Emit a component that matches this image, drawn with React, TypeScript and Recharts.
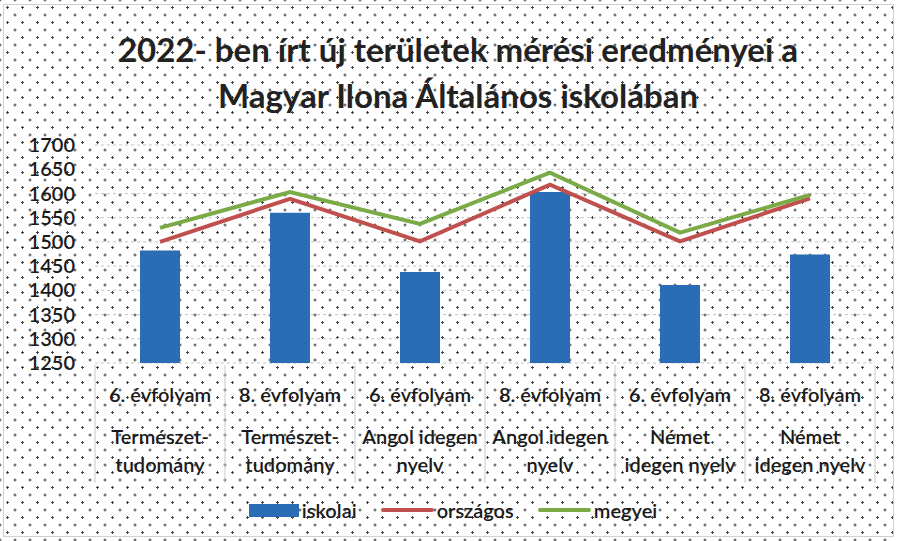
import * as React from 'react';
import { ComposedChart, Bar, Line, XAxis, YAxis, CartesianGrid } from 'recharts';

const grades = ['6. évfolyam', '8. évfolyam', '6. évfolyam', '8. évfolyam', '6. évfolyam', '8. évfolyam'];
const subjects = [
    ['Természet-', 'tudomány'],
    ['Természet-', 'tudomány'],
    ['Angol idegen', 'nyelv'],
    ['Angol idegen', 'nyelv'],
    ['Német', 'idegen nyelv'],
    ['Német', 'idegen nyelv'],
];
const iskolai = [1482, 1560, 1438, 1603, 1411, 1474];
const orszagos = [1500, 1589, 1501, 1618, 1501, 1590];
const megyei = [1529, 1603, 1537, 1643, 1519, 1597];
const yTicks = [1250, 1300, 1350, 1400, 1450, 1500, 1550, 1600, 1650, 1700];

const series = [
    { key: 'iskolai', color: '#2a6db5', kind: 'bar' },
    { key: 'országos', color: '#c0504d', kind: 'line' },
    { key: 'megyei', color: '#7aab47', kind: 'line' },
];

const data = grades.map((g, i) => ({
    idx: i,
    iskolai: iskolai[i],
    'országos': orszagos[i],
    megyei: megyei[i],
}));

const W = 898;
const H = 541;
const margin = { top: 145, right: 23, bottom: 56, left: 15 };
const Y_W = 80;
const halfBand = (W - margin.left - margin.right - Y_W) / grades.length / 2;
const FONT = 'Lato, "Open Sans", sans-serif';
const TXT = '#1a1a1a';

const CategoryTick = (props: any) => {
    const { x, y, payload, index } = props;
    const i = payload.value;
    const lines = subjects[i];
    return (
        <g fontSize={20} fontWeight={600} fill={TXT} fontFamily={FONT}>
            <line x1={x - halfBand} x2={x - halfBand} y1={y + 2} y2={y + 120} stroke="#c8c8c8" />
            {index === grades.length - 1 && (
                <line x1={x + halfBand} x2={x + halfBand} y1={y + 2} y2={y + 120} stroke="#c8c8c8" />
            )}
            <text x={x} y={y + 39} textAnchor="middle">{grades[i]}</text>
            <text x={x} y={y + 81} textAnchor="middle">{lines[0]}</text>
            <text x={x} y={y + 109} textAnchor="middle">{lines[1]}</text>
        </g>
    );
};

export default function App() {
    return (
        <div
            style={{
                position: 'absolute',
                left: 0,
                top: 0,
                width: W,
                height: H,
                backgroundColor: '#fff',
                backgroundImage:
                    'radial-gradient(circle, #444 1px, transparent 1.4px), radial-gradient(circle, #444 1px, transparent 1.4px)',
                backgroundSize: '15px 15px, 15px 15px',
                backgroundPosition: '0 0, 7.5px 7.5px',
            }}
        >
            <div style={{ position: 'absolute', left: 3, top: 4, width: 889, height: 531, border: '1px solid #d0d0d0' }} />
            <div
                style={{
                    position: 'absolute',
                    left: 18,
                    top: 26,
                    width: W - 18,
                    textAlign: 'center',
                    fontFamily: FONT,
                    fontWeight: 700,
                    fontSize: 33,
                    lineHeight: '46px',
                    color: '#222',
                }}
            >
                2022- ben írt új területek mérési eredményei a
                <br />
                Magyar Ilona Általános iskolában
            </div>
            <div style={{ position: 'absolute', left: 0, top: 0 }}>
                <ComposedChart width={W} height={H} data={data} margin={margin}>
                    <CartesianGrid vertical={false} stroke="#c4c4c4" strokeDasharray="3 3" />
                    <XAxis
                        dataKey="idx"
                        type="category"
                        height={122}
                        tickSize={0}
                        tickMargin={0}
                        axisLine={false}
                        tickLine={false}
                        interval={0}
                        tick={<CategoryTick />}
                    />
                    <YAxis
                        width={Y_W}
                        domain={[1250, 1700]}
                        ticks={yTicks}
                        interval={0}
                        axisLine={false}
                        tickLine={false}
                        tickSize={0}
                        tickMargin={20}
                        tick={{ fontSize: 20, fontWeight: 600, fill: TXT, fontFamily: FONT }}
                    />
                    <Bar dataKey="iskolai" fill={series[0].color} barSize={40} isAnimationActive={false} />
                    <Line dataKey="országos" stroke={series[1].color} strokeWidth={4} dot={false} isAnimationActive={false} />
                    <Line dataKey="megyei" stroke={series[2].color} strokeWidth={4} dot={false} isAnimationActive={false} />
                </ComposedChart>
            </div>
            <div
                style={{
                    position: 'absolute',
                    left: 8,
                    top: 498,
                    width: W - 8,
                    display: 'flex',
                    justifyContent: 'center',
                    alignItems: 'center',
                    fontFamily: FONT,
                    fontSize: 20,
                    fontWeight: 600,
                    color: TXT,
                }}
            >
                {series.map((s) => (
                    <div key={s.key} style={{ display: 'flex', alignItems: 'center', margin: '0 12px' }}>
                        {s.kind === 'bar' ? (
                            <span style={{ display: 'inline-block', width: 50, height: 13, background: s.color, marginRight: 3 }} />
                        ) : (
                            <span style={{ display: 'inline-block', width: 53, height: 4, borderRadius: 2, background: s.color, marginRight: 3 }} />
                        )}
                        {s.key}
                    </div>
                ))}
            </div>
        </div>
    );
}
